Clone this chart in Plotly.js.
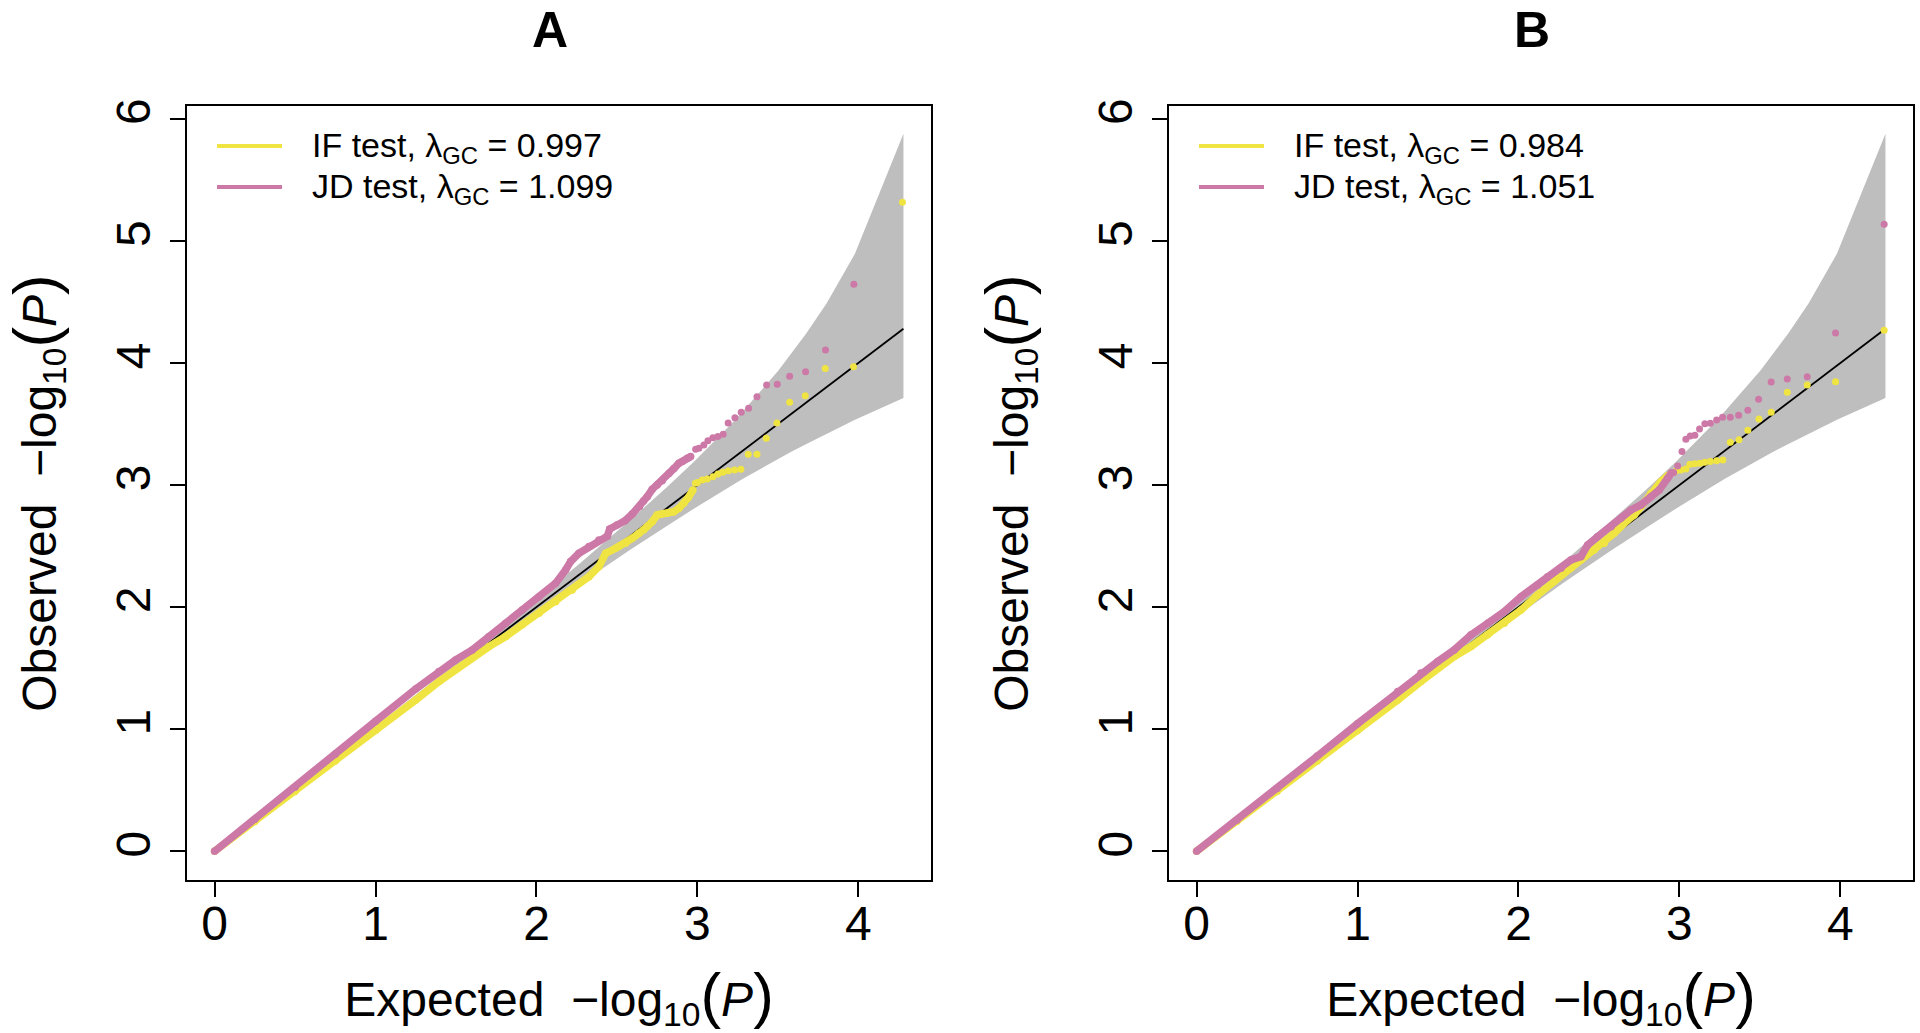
<!DOCTYPE html>
<html><head><meta charset="utf-8">
<script src="https://cdn.plot.ly/plotly-3.0.1.min.js"></script>
<style>html,body{margin:0;padding:0;background:#fff}#chart{width:1920px;height:1033px}</style>
</head><body><div id="chart"></div>
<script>
// ---------------- data ----------------
const panelTitles = ['A', 'B'];
const seriesNames = ['IF test', 'JD test'];
const xTickVals = [0, 1, 2, 3, 4];
const yTickVals = [0, 1, 2, 3, 4, 5, 6];
const lambdaIF = [0.997, 0.984];
const lambdaJD = [1.099, 1.051];

// 95% confidence band
const bandX     = [0, 0.58, 0.979, 1.28, 1.58, 1.98, 2.28, 2.58, 2.803, 2.98, 3.104, 3.201, 3.28, 3.377, 3.433, 3.502, 3.58, 3.677, 3.803, 3.979, 4.28];
const bandUpper = [0, 0.593, 0.999, 1.308, 1.621, 2.041, 2.369, 2.711, 2.974, 3.193, 3.356, 3.488, 3.60, 3.742, 3.831, 3.937, 4.07, 4.243, 4.489, 4.896, 5.877];
const bandLower = [0, 0.569, 0.960, 1.254, 1.544, 1.921, 2.199, 2.468, 2.659, 2.808, 2.909, 2.986, 3.05, 3.121, 3.161, 3.213, 3.27, 3.337, 3.421, 3.534, 3.713];

// reference line y = x
const diagX = [0, 4.28];
const diagY = [0, 4.28];

// Panel A — IF test
const A_IF_bodyX = [0, 0.25, 0.5, 0.75, 1.0, 1.25, 1.394, 1.498, 1.601, 1.705, 1.809, 1.912, 2.016, 2.119, 2.222, 2.326, 2.388, 2.430, 2.492, 2.512, 2.554, 2.595, 2.637, 2.668, 2.688, 2.719, 2.750, 2.771, 2.812, 2.854, 2.885, 2.916, 2.943, 2.972];
const A_IF_bodyY = [0, 0.245, 0.49, 0.74, 0.99, 1.24, 1.39, 1.49, 1.595, 1.677, 1.759, 1.855, 1.950, 2.045, 2.141, 2.250, 2.332, 2.441, 2.482, 2.496, 2.523, 2.564, 2.605, 2.633, 2.66, 2.70, 2.755, 2.761, 2.769, 2.782, 2.810, 2.851, 2.897, 2.960];
const A_IF_tailX = [4.274, 3.970, 3.794, 3.670, 3.573, 3.494, 3.428, 3.370, 3.316, 3.270, 3.231, 3.192, 3.158, 3.127, 3.096, 3.061, 3.030, 3.001, 2.987];
const A_IF_tailY = [5.316, 3.970, 3.954, 3.732, 3.678, 3.509, 3.383, 3.252, 3.252, 3.130, 3.124, 3.118, 3.105, 3.091, 3.069, 3.050, 3.042, 3.020, 3.015];

// Panel A — JD test
const A_JD_bodyX = [0, 0.25, 0.5, 0.75, 1.0, 1.25, 1.394, 1.498, 1.601, 1.705, 1.809, 1.912, 2.016, 2.119, 2.181, 2.212, 2.264, 2.326, 2.388, 2.440, 2.455, 2.50, 2.55, 2.595, 2.640, 2.665, 2.688, 2.719, 2.750, 2.781, 2.823, 2.854, 2.885, 2.906, 2.937, 2.958];
const A_JD_bodyY = [0, 0.262, 0.525, 0.795, 1.065, 1.33, 1.472, 1.568, 1.650, 1.759, 1.868, 1.977, 2.086, 2.196, 2.305, 2.373, 2.441, 2.496, 2.550, 2.580, 2.640, 2.672, 2.708, 2.762, 2.823, 2.87, 2.905, 2.965, 3.001, 3.035, 3.095, 3.135, 3.179, 3.192, 3.220, 3.233];
const A_JD_tailX = [3.972, 3.796, 3.672, 3.573, 3.496, 3.430, 3.370, 3.318, 3.272, 3.233, 3.191, 3.160, 3.127, 3.096, 3.065, 3.040, 3.009, 2.989];
const A_JD_tailY = [4.645, 4.107, 3.929, 3.891, 3.826, 3.820, 3.724, 3.629, 3.596, 3.552, 3.509, 3.416, 3.397, 3.388, 3.364, 3.329, 3.302, 3.294];

// Panel B — IF test
const B_IF_bodyX = [0, 0.25, 0.5, 0.75, 1.0, 1.25, 1.394, 1.498, 1.601, 1.705, 1.809, 1.912, 2.016, 2.119, 2.222, 2.326, 2.388, 2.471, 2.533, 2.595, 2.678, 2.719, 2.761, 2.823, 2.885, 2.930];
const B_IF_bodyY = [0, 0.245, 0.49, 0.74, 0.99, 1.24, 1.39, 1.50, 1.595, 1.677, 1.773, 1.868, 1.977, 2.100, 2.210, 2.319, 2.387, 2.469, 2.523, 2.605, 2.714, 2.755, 2.823, 2.933, 3.028, 3.08];
const B_IF_tailX = [4.272, 3.970, 3.794, 3.670, 3.570, 3.494, 3.425, 3.370, 3.316, 3.270, 3.231, 3.192, 3.158, 3.127, 3.096, 3.065, 3.040, 3.009, 2.978, 2.947];
const B_IF_tailY = [4.268, 3.847, 3.820, 3.760, 3.596, 3.542, 3.449, 3.372, 3.351, 3.206, 3.200, 3.192, 3.187, 3.179, 3.175, 3.170, 3.132, 3.124, 3.116, 3.097];

// Panel B — JD test
const B_JD_bodyX = [0, 0.25, 0.5, 0.75, 1.0, 1.25, 1.394, 1.498, 1.601, 1.705, 1.809, 1.912, 2.016, 2.119, 2.181, 2.264, 2.326, 2.388, 2.430, 2.492, 2.575, 2.637, 2.699, 2.761, 2.823, 2.875, 2.927, 2.950];
const B_JD_bodyY = [0, 0.255, 0.515, 0.78, 1.045, 1.31, 1.46, 1.554, 1.650, 1.773, 1.868, 1.963, 2.086, 2.182, 2.250, 2.319, 2.387, 2.414, 2.510, 2.578, 2.659, 2.728, 2.796, 2.837, 2.905, 2.960, 3.056, 3.10];
const B_JD_tailX = [4.272, 3.970, 3.794, 3.670, 3.570, 3.492, 3.425, 3.368, 3.316, 3.268, 3.231, 3.192, 3.158, 3.125, 3.096, 3.067, 3.040, 3.016, 2.989, 2.964];
const B_JD_tailY = [5.136, 4.245, 3.888, 3.869, 3.845, 3.703, 3.613, 3.572, 3.555, 3.555, 3.533, 3.506, 3.503, 3.460, 3.408, 3.402, 3.375, 3.274, 3.157, 3.102];

// ---------------- styling / layout ----------------
const W = 1920, H = 1033;
const FONT = 'Liberation Sans, Arial, Helvetica, sans-serif';
const COL_IF = '#F0E442', COL_JD = '#CC79A7', COL_BAND = '#BEBEBE';
const px = v => v / W, py = v => 1 - v / H;

const panelLeft = [187, 1169];
const panelWidth = 744;
const plotTop = 106, plotBottom = 880;

const data = [];
const series = [
  [[A_IF_bodyX, A_IF_bodyY, A_IF_tailX, A_IF_tailY], [A_JD_bodyX, A_JD_bodyY, A_JD_tailX, A_JD_tailY]],
  [[B_IF_bodyX, B_IF_bodyY, B_IF_tailX, B_IF_tailY], [B_JD_bodyX, B_JD_bodyY, B_JD_tailX, B_JD_tailY]]
];
const colors = [COL_IF, COL_JD];

for (let p = 0; p < 2; p++) {
  const xa = p === 0 ? 'x' : 'x2', ya = p === 0 ? 'y' : 'y2';
  data.push({
    x: bandX.concat(bandX.slice().reverse()),
    y: bandUpper.concat(bandLower.slice().reverse()),
    xaxis: xa, yaxis: ya, type: 'scatter', mode: 'lines', fill: 'toself',
    fillcolor: COL_BAND, line: {width: 0, color: COL_BAND}, showlegend: false, hoverinfo: 'skip'
  });
  data.push({
    x: diagX, y: diagY, xaxis: xa, yaxis: ya, type: 'scatter', mode: 'lines',
    line: {color: '#000', width: 1.8}, showlegend: false
  });
  for (let s = 0; s < 2; s++) {
    const [bx, by, tx, ty] = series[p][s];
    data.push({
      x: bx, y: by, xaxis: xa, yaxis: ya, type: 'scatter', mode: 'lines+markers',
      name: seriesNames[s], line: {color: colors[s], width: 7.5},
      marker: {color: colors[s], size: 7.5}, showlegend: false
    });
    data.push({
      x: tx, y: ty, xaxis: xa, yaxis: ya, type: 'scatter', mode: 'markers',
      name: seriesNames[s], marker: {color: colors[s], size: 7}, showlegend: false
    });
  }
}

const BIG = '<span style="font-size:62px">';
function axisTitle(word) {
  return word + '  \u2212log<sub>10</sub>' + BIG + '(</span><i>P</i>' + BIG + ')</span>';
}

function xAxis(p) {
  return {
    domain: [px(panelLeft[p]), px(panelLeft[p] + panelWidth)],
    range: [-0.1712, 4.4512], anchor: p === 0 ? 'y' : 'y2',
    tickvals: xTickVals, ticktext: xTickVals.map(String),
    ticks: 'outside', ticklen: 15, tickwidth: 2, tickcolor: '#000',
    showline: true, mirror: true, linewidth: 2, linecolor: '#000',
    showgrid: false, zeroline: false, ticklabelstandoff: -15,
    tickfont: {family: FONT, size: 48, color: '#000'},
    title: {text: axisTitle('Expected'), font: {family: FONT, size: 48, color: '#000'}, standoff: 43}
  };
}
function yAxis(p) {
  return {
    domain: [py(plotBottom), py(plotTop)],
    range: [-0.235, 6.105], anchor: p === 0 ? 'x' : 'x2',
    tickvals: yTickVals, ticktext: yTickVals.map(String), tickangle: -90,
    ticks: 'outside', ticklen: 15, tickwidth: 2, tickcolor: '#000',
    showline: true, mirror: true, linewidth: 2, linecolor: '#000',
    showgrid: false, zeroline: false, ticklabelstandoff: 1,
    tickfont: {family: FONT, size: 48, color: '#000'},
    title: {text: axisTitle('Observed'), font: {family: FONT, size: 48, color: '#000'}, standoff: 45}
  };
}

const shapes = [], annotations = [];
const legendY = [146, 187];
const lambdas = [lambdaIF, lambdaJD];
for (let p = 0; p < 2; p++) {
  const off = panelLeft[p] - panelLeft[0];
  annotations.push({
    text: '<b>' + panelTitles[p] + '</b>', xref: 'paper', yref: 'paper',
    x: px(550 + off), y: 1, xanchor: 'center', yanchor: 'top', showarrow: false,
    font: {family: FONT, size: 50, color: '#000'}
  });
  for (let s = 0; s < 2; s++) {
    shapes.push({
      type: 'line', xref: 'paper', yref: 'paper',
      x0: px(217 + off), x1: px(282 + off), y0: py(legendY[s]), y1: py(legendY[s]),
      line: {color: colors[s], width: 4}
    });
    annotations.push({
      text: seriesNames[s] + ', \u03BB<sub>GC</sub> = ' + lambdas[s][p].toFixed(3),
      xref: 'paper', yref: 'paper', x: px(310 + off), y: py(legendY[s] + 1),
      xanchor: 'left', yanchor: 'middle', showarrow: false,
      font: {family: FONT, size: 34, color: '#000'}
    });
  }
}

const layout = {
  width: W, height: H, margin: {l: 0, r: 0, t: 0, b: 0},
  paper_bgcolor: '#fff', plot_bgcolor: '#fff', showlegend: false,
  font: {family: FONT, color: '#000'},
  xaxis: xAxis(0), yaxis: yAxis(0), xaxis2: xAxis(1), yaxis2: yAxis(1),
  shapes: shapes, annotations: annotations
};

Plotly.newPlot('chart', data, layout, {staticPlot: true, displayModeBar: false});
</script>
</body></html>
